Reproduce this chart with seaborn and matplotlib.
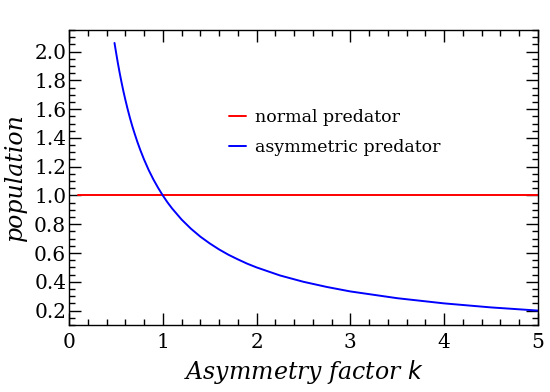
import matplotlib
matplotlib.use("Agg")
import matplotlib.pyplot as plt
import seaborn as sns
import pandas as pd
from matplotlib.ticker import MultipleLocator

# data
normal_k = [0.1, 5.0]
normal_pop = [1.0, 1.0]
asym_k = [0.485, 0.5, 0.52, 0.54, 0.56, 0.58, 0.6, 0.625, 0.65, 0.675, 0.7, 0.73, 0.76,
          0.8, 0.85, 0.9, 0.95, 1.0, 1.05, 1.1, 1.2, 1.3, 1.4, 1.5, 1.6, 1.7, 1.8, 1.9,
          2.0, 2.25, 2.5, 2.75, 3.0, 3.5, 4.0, 4.5, 5.0]
asym_pop = [2.06, 2.0, 1.923, 1.852, 1.786, 1.724, 1.667, 1.6, 1.538, 1.481, 1.429, 1.37, 1.316,
            1.25, 1.176, 1.111, 1.053, 1.0, 0.952, 0.909, 0.833, 0.769, 0.714, 0.667, 0.625, 0.588,
            0.556, 0.526, 0.5, 0.444, 0.4, 0.364, 0.333, 0.286, 0.25, 0.222, 0.2]

df = pd.concat([
    pd.DataFrame({"k": normal_k, "pop": normal_pop, "series": "normal predator"}),
    pd.DataFrame({"k": asym_k, "pop": asym_pop, "series": "asymmetric predator"}),
])

sns.set_theme(style="ticks")
plt.rcParams["font.family"] = ["DejaVu Serif"]
plt.rcParams["text.color"] = "black"
plt.rcParams["axes.labelcolor"] = "black"
plt.rcParams["xtick.color"] = "black"
plt.rcParams["ytick.color"] = "black"

fig, ax = plt.subplots(figsize=(5.5, 3.92), dpi=100)
fig.subplots_adjust(left=0.1255, right=0.978, top=0.9235, bottom=0.171)

sns.lineplot(data=df, x="k", y="pop", hue="series", sort=False,
             palette={"normal predator": "#ff0000", "asymmetric predator": "#0000ff"},
             linewidth=1.4, ax=ax)

ax.set_xlim(0, 5)
ax.set_ylim(0.1, 2.15)
ax.xaxis.set_major_locator(MultipleLocator(1))
ax.xaxis.set_minor_locator(MultipleLocator(0.2))
ax.yaxis.set_major_locator(MultipleLocator(0.2))
ax.yaxis.set_minor_locator(MultipleLocator(0.05))
ax.yaxis.set_major_formatter(plt.FuncFormatter(lambda v, p: f"{v:.1f}"))
ax.tick_params(which="both", direction="in", top=True, right=True, color="black",
               labelcolor="black", width=1.0)
ax.tick_params(which="major", length=8.6, labelsize=14.5)
ax.tick_params(axis="x", which="major", pad=6)
ax.tick_params(axis="y", which="major", pad=2)
ax.tick_params(which="minor", length=4.3)
for s in ax.spines.values():
    s.set_color("black")
    s.set_linewidth(1.0)

ax.set_xlabel("Asymmetry factor $k$", fontsize=17, style="italic", color="black")
ax.set_ylabel("population", fontsize=17, style="italic", color="black", labelpad=5)

leg = ax.legend(loc="upper left", bbox_to_anchor=(0.307, 0.785), frameon=False,
                fontsize=12.5, handlelength=1.0, handletextpad=0.5, labelspacing=0.75,
                title=None)
for t in leg.get_texts():
    t.set_color("black")

fig.savefig("out.png", dpi=100)
